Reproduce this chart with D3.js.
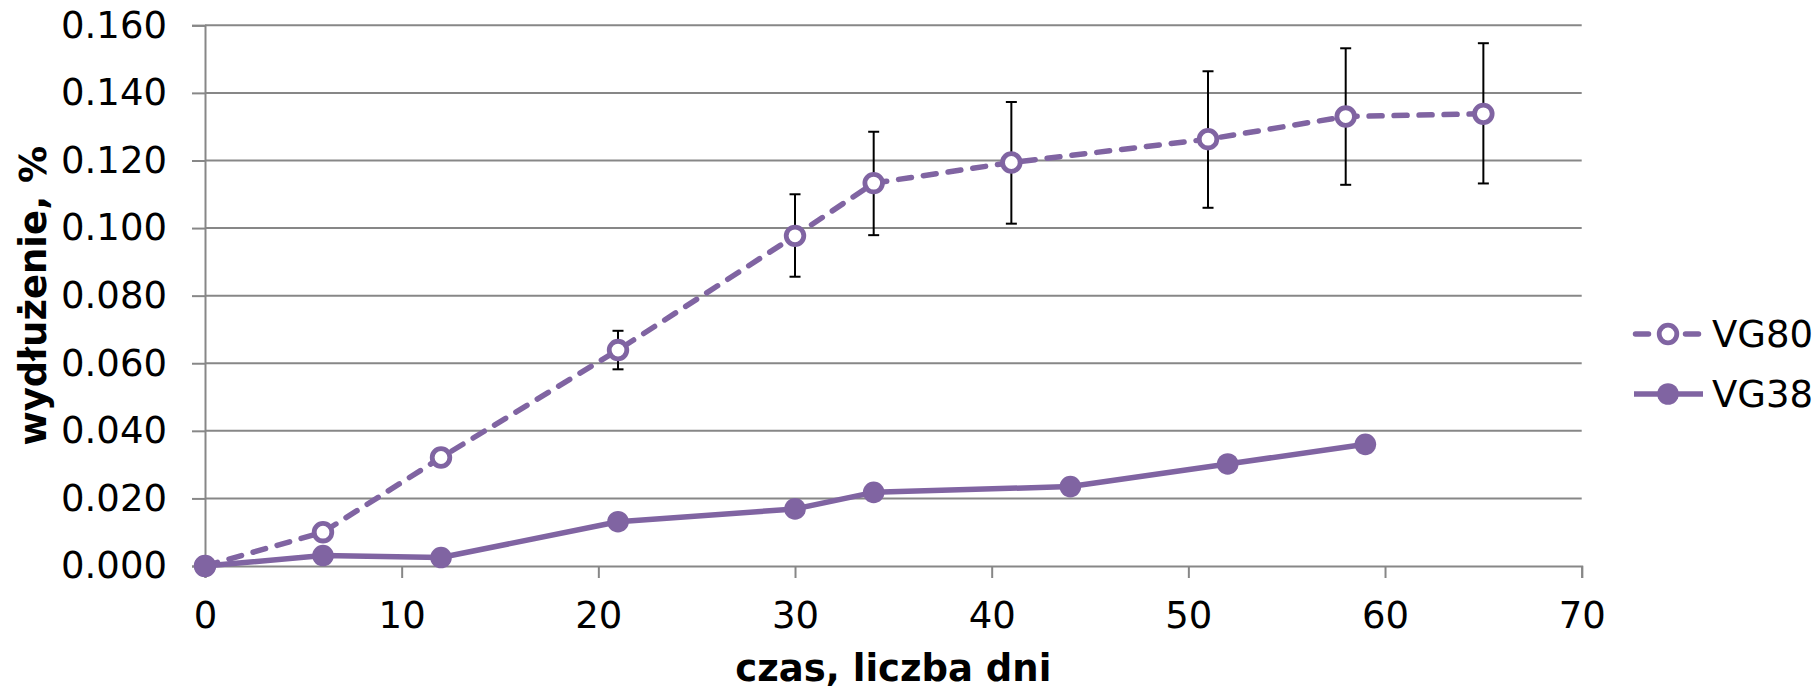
<!DOCTYPE html>
<html>
<head>
<meta charset="utf-8">
<script src="https://cdn.jsdelivr.net/npm/d3@7/dist/d3.min.js"></script>
<style>
  body { margin: 0; background: #fff; }
  svg text { font-family: "DejaVu Sans", Verdana, sans-serif; }
</style>
</head>
<body>
<script>
// data
var daysVG80 = [0, 6, 12, 21, 30, 34, 41, 51, 58, 65];
var valVG80 = [0, 0.0100, 0.0321, 0.0639, 0.0977, 0.1133, 0.1194, 0.1263, 0.1330, 0.1338];
var errUpVG80 = [0, 0, 0, 0.0057, 0.0123, 0.0152, 0.0179, 0.0201, 0.0202, 0.0209];
var errDownVG80 = [0, 0, 0, 0.0057, 0.0121, 0.0154, 0.0181, 0.0203, 0.0202, 0.0206];

var daysVG38 = [0, 6, 12, 21, 30, 34, 44, 52, 59];
var valVG38 = [0, 0.0031, 0.0025, 0.0131, 0.0169, 0.0218, 0.0235, 0.0302, 0.0360];

var xTicks = [0, 10, 20, 30, 40, 50, 60, 70];
var yTicks = [0, 0.02, 0.04, 0.06, 0.08, 0.10, 0.12, 0.14, 0.16];
var seriesNames = ["VG80", "VG38"];

var width = 1814, height = 689;
var margin = {top: 25.3, right: 232.3, bottom: 123, left: 205};
var purple = "#8064A2";
var grid = "#878787";
var fontSize = "37px";

var svg = d3.select("body").append("svg")
    .attr("width", width)
    .attr("height", height);

var x = d3.scaleLinear().domain([0, 70]).range([margin.left, width - margin.right]);
var y = d3.scaleLinear().domain([0, 0.16]).range([height - margin.bottom, margin.top]);

// horizontal gridlines
svg.append("g")
  .selectAll("line")
  .data(yTicks.slice(1))
  .enter().append("line")
    .attr("x1", x(0))
    .attr("x2", x(70))
    .attr("y1", function(d) { return y(d); })
    .attr("y2", function(d) { return y(d); })
    .attr("stroke", grid)
    .attr("stroke-width", 2);

// y axis
var yAxis = svg.append("g")
    .attr("transform", "translate(" + x(0) + ",0)")
    .call(d3.axisLeft(y).tickValues(yTicks).tickSize(13).tickPadding(25).tickFormat(d3.format(".3f")));

// x axis
var xAxis = svg.append("g")
    .attr("transform", "translate(0," + y(0) + ")")
    .call(d3.axisBottom(x).tickValues(xTicks).tickSize(12).tickPadding(24).tickFormat(d3.format("d")));

[yAxis, xAxis].forEach(function(a) {
  a.select(".domain").attr("stroke", grid).attr("stroke-width", 2);
  a.selectAll(".tick line").attr("stroke", grid).attr("stroke-width", 2);
  a.selectAll(".tick text")
    .attr("fill", "#000")
    .style("font-size", fontSize)
    .style("font-family", "'DejaVu Sans', Verdana, sans-serif");
});

// axis titles
svg.append("text")
    .attr("x", (x(0) + x(70)) / 2)
    .attr("y", 681)
    .attr("text-anchor", "middle")
    .style("font-size", fontSize)
    .style("font-weight", "bold")
    .text("czas, liczba dni");

svg.append("text")
    .attr("transform", "translate(46," + (y(0) + y(0.16)) / 2 + ") rotate(-90)")
    .attr("text-anchor", "middle")
    .style("font-size", fontSize)
    .style("font-weight", "bold")
    .text("wydłużenie, %");

// error bars VG80
var errData = daysVG80.map(function(d, i) {
  return {x: d, lo: valVG80[i] - errDownVG80[i], hi: valVG80[i] + errUpVG80[i], has: errUpVG80[i] > 0};
}).filter(function(d) { return d.has; });

var eb = svg.append("g").attr("stroke", "#000").attr("stroke-width", 2);
eb.selectAll(".bar").data(errData).enter().append("line")
    .attr("x1", function(d) { return x(d.x); })
    .attr("x2", function(d) { return x(d.x); })
    .attr("y1", function(d) { return y(d.lo); })
    .attr("y2", function(d) { return y(d.hi); });
eb.selectAll(".capHi").data(errData).enter().append("line")
    .attr("x1", function(d) { return x(d.x) - 5.5; })
    .attr("x2", function(d) { return x(d.x) + 5.5; })
    .attr("y1", function(d) { return y(d.hi); })
    .attr("y2", function(d) { return y(d.hi); });
eb.selectAll(".capLo").data(errData).enter().append("line")
    .attr("x1", function(d) { return x(d.x) - 5.5; })
    .attr("x2", function(d) { return x(d.x) + 5.5; })
    .attr("y1", function(d) { return y(d.lo); })
    .attr("y2", function(d) { return y(d.lo); });

var line = d3.line()
    .x(function(d) { return x(d[0]); })
    .y(function(d) { return y(d[1]); });

var ptsVG80 = daysVG80.map(function(d, i) { return [d, valVG80[i]]; });
var ptsVG38 = daysVG38.map(function(d, i) { return [d, valVG38[i]]; });

// VG80 dashed, open markers
svg.append("path")
    .datum(ptsVG80)
    .attr("d", line)
    .attr("fill", "none")
    .attr("stroke", purple)
    .attr("stroke-width", 5.5)
    .attr("stroke-dasharray", "13,12")
    .attr("stroke-linecap", "round");

svg.append("g").selectAll("circle")
    .data(ptsVG80)
    .enter().append("circle")
    .attr("cx", function(d) { return x(d[0]); })
    .attr("cy", function(d) { return y(d[1]); })
    .attr("r", 8.8)
    .attr("fill", "#fff")
    .attr("stroke", purple)
    .attr("stroke-width", 4.8);

// VG38 solid, filled markers
svg.append("path")
    .datum(ptsVG38)
    .attr("d", line)
    .attr("fill", "none")
    .attr("stroke", purple)
    .attr("stroke-width", 5.5)
    .attr("stroke-linejoin", "round");

svg.append("g").selectAll("circle")
    .data(ptsVG38)
    .enter().append("circle")
    .attr("cx", function(d) { return x(d[0]); })
    .attr("cy", function(d) { return y(d[1]); })
    .attr("r", 10.8)
    .attr("fill", purple);

// legend
var legend = svg.append("g");
var legY = [334, 394];

legend.append("line")
    .attr("x1", 1635.5).attr("x2", 1698.5)
    .attr("y1", legY[0]).attr("y2", legY[0])
    .attr("stroke", purple).attr("stroke-width", 5.5)
    .attr("stroke-dasharray", "13,12").attr("stroke-linecap", "round");
legend.append("circle")
    .attr("cx", 1668).attr("cy", legY[0]).attr("r", 8.8)
    .attr("fill", "#fff").attr("stroke", purple).attr("stroke-width", 4.8);

legend.append("line")
    .attr("x1", 1634).attr("x2", 1703)
    .attr("y1", legY[1]).attr("y2", legY[1])
    .attr("stroke", purple).attr("stroke-width", 5.5);
legend.append("circle")
    .attr("cx", 1668).attr("cy", legY[1]).attr("r", 10.8)
    .attr("fill", purple);

legend.selectAll("text")
    .data(seriesNames)
    .enter().append("text")
    .attr("x", 1712)
    .attr("y", function(d, i) { return legY[i]; })
    .attr("dy", "0.36em")
    .style("font-size", fontSize)
    .text(function(d) { return d; });
</script>
</body>
</html>
